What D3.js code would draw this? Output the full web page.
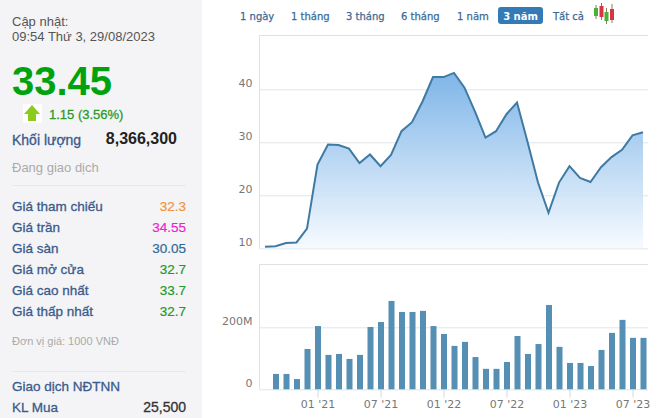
<!DOCTYPE html>
<html>
<head>
<meta charset="utf-8">
<script src="https://cdn.jsdelivr.net/npm/d3@7"></script>
<style>
html, body { margin: 0; padding: 0; background: #fff; overflow: hidden; }
svg { display: block; }
.side { font-family: "Liberation Sans", Arial, sans-serif; }
.chartfont { font-family: "DejaVu Sans", Verdana, sans-serif; }
</style>
</head>
<body>
<div id="graph"></div>
<script>
// values, one per month from 08/2020 to 08/2023
var months = ["08 '20","09 '20","10 '20","11 '20","12 '20","01 '21","02 '21","03 '21","04 '21","05 '21","06 '21","07 '21",
    "08 '21","09 '21","10 '21","11 '21","12 '21","01 '22","02 '22","03 '22","04 '22","05 '22","06 '22","07 '22",
    "08 '22","09 '22","10 '22","11 '22","12 '22","01 '23","02 '23","03 '23","04 '23","05 '23","06 '23","07 '23","08 '23"];
var prices = [10.3,10.4,11.0,11.1,13.7,25.8,29.6,29.5,28.8,26.1,27.7,25.5,27.6,32.1,33.8,37.7,42.3,
    42.3,43.1,40.3,35.8,30.9,32.1,35.3,37.5,30.1,22.4,16.7,22.4,25.5,23.3,22.5,25.3,27.2,28.6,31.3,31.9];
var volumes = [0,49.5,49.5,33,130,204,111,114,98,111,201,217,285,249.5,249.5,253,204,178.5,
    140,153,104,66,66,88,172,114,146,272,137,85,85,75,127,182,224,166,166];
var monthTicks = ["01 '21","07 '21","01 '22","07 '22","01 '23","07 '23"];
var priceTicks = [10,20,30,40];
var volumeTicks = [0,200];

var ranges = ["1 ngày","1 tháng","3 tháng","6 tháng","1 năm","3 năm","Tất cả"];
var rangeX = [240,291,346,401,457,520.5,553];

var rowLabels = ["Giá tham chiếu","Giá trần","Giá sàn","Giá mở cửa","Giá cao nhất","Giá thấp nhất"];
var rowValues = ["32.3","34.55","30.05","32.7","33.7","32.7"];
var rowColors = ["#f0953a","#ee1fd0","#2f6b94","#1f9a2a","#1f9a2a","#1f9a2a"];

var svg = d3.select("#graph").append("svg").attr("width", 659).attr("height", 418);

// left panel
svg.append("rect").attr("x", 0).attr("y", 0).attr("width", 202).attr("height", 418).attr("fill", "#f4f4f6");

var side = svg.append("g").attr("class", "side");
function sideText(x, y, str, size, color, weight, anchor, heavy) {
    var t = side.append("text").attr("x", x).attr("y", y).text(str)
        .attr("font-size", size).attr("fill", color)
        .attr("font-weight", weight || "normal")
        .attr("text-anchor", anchor || "start");
    if (heavy) t.attr("stroke", color).attr("stroke-width", 0.3);
    return t;
}
sideText(12, 26, "Cập nhật:", 13, "#555");
sideText(12, 41, "09:54 Thứ 3, 29/08/2023", 13, "#555");
sideText(12, 95, "33.45", 40, "#00a30e", "bold");
sideText(49, 119, "1.15 (3.56%)", 13, "#2a9a2a", "normal", "start", true);
sideText(12, 145, "Khối lượng", 14, "#3a5b8c", "normal", "start", true);
sideText(177, 144, "8,366,300", 16, "#222", "bold", "end");
sideText(12, 172, "Đang giao dịch", 13, "#aaa");
side.append("line").attr("x1", 12).attr("x2", 186).attr("y1", 185.5).attr("y2", 185.5).attr("stroke", "#e8e8ea");

side.selectAll("text.rowlabel").data(rowLabels).enter().append("text")
    .attr("class", "rowlabel").attr("x", 12)
    .attr("y", function (d, i) { return 211 + i * 21; })
    .attr("font-size", 13.5).attr("fill", "#3a5b8c")
    .attr("stroke", "#3a5b8c").attr("stroke-width", 0.3)
    .text(function (d) { return d; });
side.selectAll("text.rowvalue").data(rowValues).enter().append("text")
    .attr("class", "rowvalue").attr("x", 186).attr("text-anchor", "end")
    .attr("y", function (d, i) { return 211 + i * 21; })
    .attr("font-size", 13.5)
    .attr("fill", function (d, i) { return rowColors[i]; })
    .attr("stroke", function (d, i) { return rowColors[i]; }).attr("stroke-width", 0.2)
    .text(function (d) { return d; });

sideText(12, 345, "Đơn vị giá: 1000 VNĐ", 11, "#aaa");
side.append("line").attr("x1", 12).attr("x2", 186).attr("y1", 371.5).attr("y2", 371.5).attr("stroke", "#e8e8ea");
sideText(12, 391, "Giao dịch NĐTNN", 13.5, "#3a5b8c", "normal", "start", true);
sideText(12, 412, "KL Mua", 13.5, "#3a5b8c", "normal", "start", true);
sideText(186, 412, "25,500", 14, "#333", "normal", "end", true);

// up arrow icon
svg.append("rect").attr("x", 23).attr("y", 104).attr("width", 19).attr("height", 19).attr("fill", "#fff");
svg.append("path").attr("d", "M32 105L40 114H36V121H28V114H24Z").attr("fill", "#8ccb1e");

// range buttons
svg.append("rect").attr("x", 498).attr("y", 7).attr("width", 45).attr("height", 17).attr("rx", 3).attr("fill", "#337ab7");
svg.append("g").attr("class", "chartfont").selectAll("text").data(ranges).enter().append("text")
    .attr("x", function (d, i) { return rangeX[i]; })
    .attr("y", 19.5)
    .attr("font-size", 10)
    .attr("font-weight", function (d) { return d == "3 năm" ? "bold" : "normal"; })
    .attr("text-anchor", function (d) { return d == "3 năm" ? "middle" : "start"; })
    .attr("fill", function (d) { return d == "3 năm" ? "#fff" : "#3a6a96"; })
    .attr("stroke", function (d) { return d == "3 năm" ? "none" : "#3a6a96"; })
    .attr("stroke-width", 0.25)
    .text(function (d) { return d; });

// candle icon
var candles = [[594,8,16,5,"#4caf3a"],[599.5,6,17,3,"#d9343f"],[604.5,12,21,8,"#4caf3a"],[610,9,20,4,"#d9343f"]];
candles.forEach(function (c) {
    svg.append("line").attr("x1", c[0] + 2).attr("x2", c[0] + 2).attr("y1", c[3]).attr("y2", c[2] + 3).attr("stroke", "#8a7a5a");
    svg.append("rect").attr("x", c[0]).attr("y", c[1]).attr("width", 4).attr("height", c[2] - c[1]).attr("fill", c[4]);
});

// scales
var x = d3.scalePoint().domain(months).range([265, 643]);
var yPrice = d3.scaleLinear().domain([10, 40]).range([248.3, 89.3]);
var yVol = d3.scaleLinear().domain([0, 200]).range([389.3, 327.3]);
var plotLeft = 259.5, plotRight = 648;

var defs = svg.append("defs");
var grad = defs.append("linearGradient").attr("id", "areaFill").attr("x1", 0).attr("y1", 0).attr("x2", 0).attr("y2", 1);
grad.append("stop").attr("offset", "0%").attr("stop-color", "#74afe6");
grad.append("stop").attr("offset", "100%").attr("stop-color", "#f6faff");

function styleAxis(g, labelDy) {
    g.select(".domain").remove();
    g.selectAll(".tick line").attr("stroke", "#e2e4e8");
    g.selectAll(".tick text").attr("class", "chartfont").attr("font-family", "DejaVu Sans")
        .attr("font-size", 11).attr("fill", "#777").attr("dy", labelDy);
}

// frames
svg.append("path").attr("d", "M" + plotRight + " 35.5H" + plotLeft + "V248.5").attr("fill", "none").attr("stroke", "#dfe1e5");
svg.append("path").attr("d", "M" + plotRight + " 264.5H" + plotLeft + "V389.5").attr("fill", "none").attr("stroke", "#dfe1e5");

// price panel
var gPrice = svg.append("g").attr("transform", "translate(" + plotLeft + ",0)")
    .call(d3.axisLeft(yPrice).tickValues(priceTicks).tickSize(-(plotRight - plotLeft)).tickPadding(7));
styleAxis(gPrice, "-3");

var area = d3.area()
    .x(function (d, i) { return x(months[i]); })
    .y0(yPrice(10))
    .y1(function (d) { return yPrice(d); });
var line = d3.line()
    .x(function (d, i) { return x(months[i]); })
    .y(function (d) { return yPrice(d); });

svg.append("path").datum(prices).attr("d", area).attr("fill", "url(#areaFill)").attr("fill-opacity", 0.92);
svg.append("path").datum(prices).attr("d", line).attr("fill", "none").attr("stroke", "#3f7aa3").attr("stroke-width", 2);

// volume panel
var gVol = svg.append("g").attr("transform", "translate(" + plotLeft + ",0)")
    .call(d3.axisLeft(yVol).tickValues(volumeTicks).tickSize(-(plotRight - plotLeft)).tickPadding(7)
        .tickFormat(function (d) { return d == 0 ? "0" : d + "M"; }));
styleAxis(gVol, "-3");

svg.selectAll("rect.bar").data(volumes).enter().append("rect")
    .attr("class", "bar")
    .attr("x", function (d, i) { return x(months[i]) - 3 + 0.5; })
    .attr("width", 6)
    .attr("y", function (d) { return yVol(d); })
    .attr("height", function (d) { return yVol(0) - yVol(d); })
    .attr("fill", "#5590b4");

var gX = svg.append("g").attr("transform", "translate(0,389.5)")
    .call(d3.axisBottom(x).tickValues(monthTicks).tickSize(8).tickPadding(3));
gX.select(".domain").remove();
gX.selectAll(".tick line").attr("stroke", "#d5d8dc");
gX.selectAll(".tick text").attr("font-family", "DejaVu Sans").attr("font-size", 11).attr("fill", "#777");
</script>
</body>
</html>
